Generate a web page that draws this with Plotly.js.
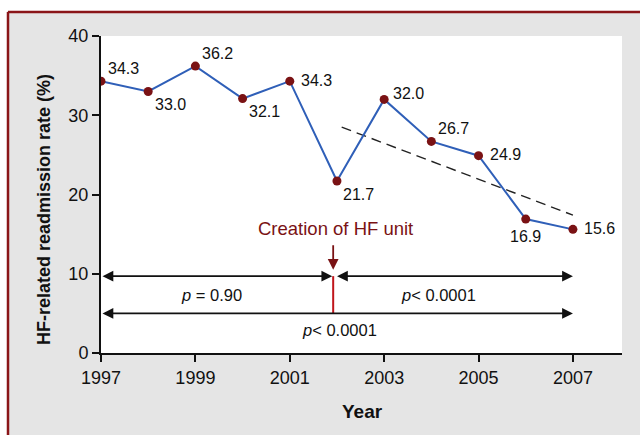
<!DOCTYPE html>
<html><head><meta charset="utf-8">
<script src="https://cdn.plot.ly/plotly-3.0.1.min.js"></script>
<style>body{margin:0;padding:0;} #chart{width:640px;height:435px;}</style>
</head><body><div id="chart"></div>
<script>
var years = [1997,1998,1999,2000,2001,2002,2003,2004,2005,2006,2007];
var rates = [34.3,33.0,36.2,32.1,34.3,21.7,32.0,26.7,24.9,16.9,15.6];
var labelPos = ['tr','br','tr','br','r','br','rt','tr','r','b','r'];
var trendX = [2002.1, 2007.0];
var trendY = [28.5, 17.4];
var unitYear = 2001.92;
var pTexts = ['<i>p</i> = 0.90', '<i>p</i>< 0.0001', '<i>p</i>< 0.0001'];
var xTicks = [1997,1999,2001,2003,2005,2007];
var yTicks = [0,10,20,30,40];

var FONT = '"Liberation Sans", Arial, sans-serif';
var RED = '#7a1214';

var shifts = {tr:[22,13], br:[22,-13], r:[27,1], rt:[24,6], b:[0,-17]};
var ann = [];
for (var i=0;i<years.length;i++){
  var s = shifts[labelPos[i]];
  ann.push({x:years[i], y:rates[i], text:rates[i].toFixed(1), showarrow:false,
    xshift:s[0], yshift:s[1], font:{family:FONT,size:16,color:'#111'}});
}
function arrow(x0,x1,y,side){
  return {x:x1, y:y, ax:x0, ay:y, xref:'x', yref:'y', axref:'x', ayref:'y', text:'',
    showarrow:true, arrowhead:2, arrowsize:1.2, arrowwidth:1.8, arrowcolor:'#111',
    arrowside:side, standoff:0, startstandoff:0};
}
ann.push(arrow(years[0], unitYear-0.02, 9.7, 'end+start'));
ann.push(arrow(unitYear+0.05, years[10], 9.7, 'end+start'));
ann.push(arrow(years[0], years[10], 5.0, 'end+start'));
ann.push({x:unitYear, y:10.5, ax:unitYear, ay:13.8, xref:'x', yref:'y', axref:'x', ayref:'y',
  text:'', showarrow:true, arrowhead:2, arrowsize:1.2, arrowwidth:1.8, arrowcolor:RED, standoff:0});
ann.push({x:unitYear+0.05, y:15.7, text:'Creation of HF unit', showarrow:false,
  font:{family:FONT,size:18.5,color:RED}});
ann.push({x:1999.35, y:7.35, text:pTexts[0], showarrow:false, font:{family:FONT,size:16.5,color:'#111'}});
ann.push({x:2004.15, y:7.35, text:pTexts[1], showarrow:false, font:{family:FONT,size:16.5,color:'#111'}});
ann.push({x:2002.05, y:2.85, text:pTexts[2], showarrow:false, font:{family:FONT,size:16.5,color:'#111'}});
ann.push({xref:'paper', yref:'paper', x:(44-101)/521, y:(353-210)/317, text:'<b>HF-related readmission rate (%)</b>',
  textangle:-90, showarrow:false, xanchor:'center', yanchor:'middle', font:{family:FONT,size:18,color:'#111'}});
ann.push({xref:'paper', yref:'paper', x:(362-101)/521, y:(353-411)/317, text:'<b>Year</b>',
  showarrow:false, xanchor:'center', yanchor:'middle', font:{family:FONT,size:19,color:'#111'}});

var shapes = [
  {type:'rect', xref:'paper', yref:'paper', x0:-0.2, x1:1.1, y0:1.079, y1:1.12, fillcolor:'#fff', line:{width:0}, layer:'below'},
  {type:'rect', xref:'paper', yref:'paper', x0:-0.2, x1:-0.1805, y0:-0.3, y1:1.12, fillcolor:'#fff', line:{width:0}, layer:'below'},
  {type:'line', xref:'paper', yref:'paper', x0:-0.1785, x1:1.1, y0:1.0757, y1:1.0757, line:{color:'#8a1518',width:2.5}},
  {type:'line', xref:'paper', yref:'paper', x0:-0.1785, x1:-0.1785, y0:-0.3, y1:1.0757, line:{color:'#8a1518',width:2.5}},
  {type:'line', xref:'x', yref:'y', x0:unitYear, x1:unitYear, y0:5.0, y1:9.7, line:{color:'#c0151b',width:2}}
];

var traces = [
  {x:trendX, y:trendY, mode:'lines', line:{color:'#222',width:1.4,dash:'10px,6px'}, hoverinfo:'skip'},
  {x:years, y:rates, mode:'lines+markers', line:{color:'#2f5fb8',width:2},
   marker:{color:RED,size:9}}
];

var layout = {
  width:640, height:435,
  margin:{l:101, r:18, t:36, b:82, pad:0},
  paper_bgcolor:'#e5e5e5', plot_bgcolor:'#ffffff',
  showlegend:false,
  xaxis:{range:[1997,2008.04], tickvals:xTicks, ticktext:xTicks.map(String), showgrid:false, zeroline:false,
    showline:true, linecolor:'#111', linewidth:2, ticks:'outside', ticklen:7, tickwidth:2, tickcolor:'#111',
    tickfont:{family:FONT,size:18,color:'#111'}},
  yaxis:{range:[0,40], tickvals:yTicks, showgrid:false, zeroline:false,
    showline:true, linecolor:'#111', linewidth:2, ticks:'outside', ticklen:7, tickwidth:2, tickcolor:'#111',
    tickfont:{family:FONT,size:18,color:'#111'}},
  annotations:ann, shapes:shapes
};
Plotly.newPlot('chart', traces, layout, {staticPlot:true});
</script></body></html>
